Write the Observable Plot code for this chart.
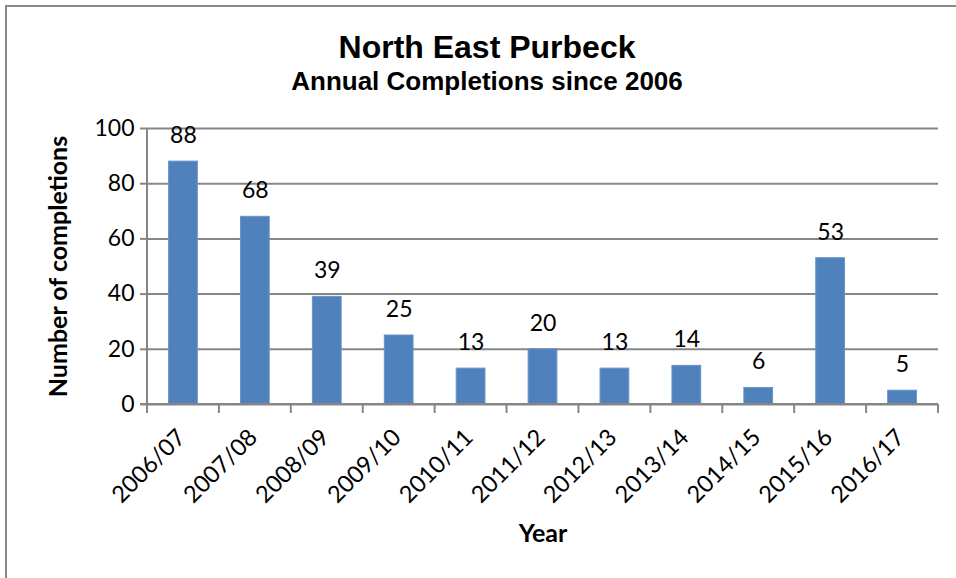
<!DOCTYPE html>
<html>
<head>
<meta charset="utf-8">
<script src="https://cdn.jsdelivr.net/npm/d3@7"></script>
<script src="https://cdn.jsdelivr.net/npm/@observablehq/plot@0.6"></script>
<style>
  html, body { margin: 0; padding: 0; background: #fff; }
  #page { position: relative; width: 956px; height: 578px; overflow: hidden; background: #fff; }
  #frame { position: absolute; left: 5px; top: 5px; right: -4px; bottom: -4px; border-left: 2px solid #8a8a8a; border-top: 2px solid #8a8a8a; }
  .t { position: absolute; left: 18px; width: 938px; text-align: center; font-family: "Liberation Sans", Arial, sans-serif; font-weight: bold; color: #000; line-height: 1; white-space: nowrap; }
  #title { top: 31px; font-size: 32px; }
  #subtitle { top: 68px; font-size: 26px; }
  #chart { position: absolute; left: 0; top: 100px; }
</style>
</head>
<body>
<div id="page">
  <div id="frame"></div>
  <div class="t" id="title">North East Purbeck</div>
  <div class="t" id="subtitle">Annual Completions since 2006</div>
  <div id="chart"></div>
</div>
<script>
const years = ["2006/07","2007/08","2008/09","2009/10","2010/11","2011/12","2012/13","2013/14","2014/15","2015/16","2016/17"];
const completions = [88, 68, 39, 25, 13, 20, 13, 14, 6, 53, 5];
const yTicks = [0, 20, 40, 60, 80, 100];

const data = years.map((year, i) => ({year, value: completions[i]}));
const axisColor = "#868686";

function boundaryTicks(index, scales, values, dims) {
  const x = scales.x, y = scales.y;
  const bw = x.bandwidth(), st = x.step();
  const gap = (st - bw) / 2;
  const y0 = y(0);
  const xs = years.map(d => x(d) - gap);
  xs.push(x(years[years.length - 1]) + bw + gap);
  const g = d3.create("svg:g").attr("stroke", axisColor).attr("stroke-width", 2);
  g.append("line").attr("x1", xs[0]).attr("x2", xs[0]).attr("y1", y(100)).attr("y2", y0);
  g.append("line").attr("x1", xs[0] - 7).attr("x2", xs[xs.length - 1]).attr("y1", y0).attr("y2", y0);
  for (const bx of xs) {
    g.append("line").attr("x1", bx).attr("x2", bx).attr("y1", y0).attr("y2", y0 + 9);
  }
  return g.node();
}

const chart = Plot.plot({
  width: 956,
  height: 478,
  marginLeft: 147,
  marginRight: 18,
  marginTop: 28,
  marginBottom: 174,
  style: {fontFamily: "Lato, 'Open Sans', sans-serif", fontSize: "23px", color: "#000", background: "transparent"},
  x: {domain: years, paddingInner: 0.6, paddingOuter: 0.3, round: false},
  y: {domain: [0, 100]},
  marks: [
    Plot.gridY(yTicks, {stroke: axisColor, strokeOpacity: 1, strokeWidth: 2}),
    Plot.barY(data, {x: "year", y: "value", fill: "#4f81bd", stroke: "#6a95c9", strokeWidth: 1}),
    boundaryTicks,
    Plot.axisY(yTicks, {tickSize: 7, tickPadding: 6, stroke: axisColor, strokeWidth: 2, fontSize: 23,
      label: "Number of completions", labelAnchor: "center", labelArrow: "none", labelOffset: 98}),
    Plot.axisX({tickSize: 0, tickRotate: -45, tickPadding: 29, dx: -2, fontSize: 23.5,
      label: "Year", labelAnchor: "center", labelArrow: "none", labelOffset: 137}),
    Plot.text(data, {x: "year", y: "value", text: d => String(d.value), dy: -26, fontSize: 23, fill: "#000"})
  ]
});
chart.querySelectorAll("g[aria-label='y-axis label'] text, g[aria-label='x-axis label'] text").forEach(t => {
  t.setAttribute("font-weight", "bold");
  t.setAttribute("font-size", "25");
});
document.getElementById("chart").appendChild(chart);
</script>
</body>
</html>
